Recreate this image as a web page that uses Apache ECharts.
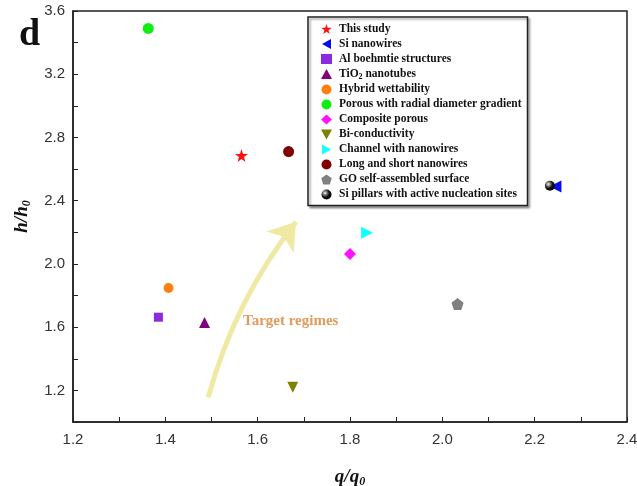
<!DOCTYPE html>
<html><head><meta charset="utf-8">
<script src="https://cdn.jsdelivr.net/npm/echarts@6/dist/echarts.min.js"></script>
<style>html,body{margin:0;padding:0;background:#fff}#c{width:637px;height:486px}</style>
</head><body><div id="c"></div>
<script>
// ---- data ----
const seriesNames = ['This study','Si nanowires','Al boehmtie structures','TiO2 nanotubes','Hybrid wettability','Porous with radial diameter gradient','Composite porous','Bi-conductivity','Channel with nanowires','Long and short nanowires','GO self-assembled surface','Si pillars with active nucleation sites'];
const qValues = [1.565, 2.245, 1.385, 1.485, 1.407, 1.363, 1.800, 1.676, 1.837, 1.667, 2.033, 2.233];
const hValues = [2.686, 2.490, 1.663, 1.630, 1.848, 3.490, 2.063, 1.220, 2.197, 2.711, 1.746, 2.495];
const xTicks = [1.2, 1.4, 1.6, 1.8, 2.0, 2.2, 2.4];
const yTicks = [1.2, 1.6, 2.0, 2.4, 2.8, 3.2, 3.6];
const arrowFrom = [1.493, 1.156];
const arrowTo = [1.683, 2.267];

const star = 'path://M50,0 L61.2,34.5 L97.6,34.5 L68.2,55.9 L79.4,90.5 L50,69.1 L20.6,90.5 L31.8,55.9 L2.4,34.5 L38.8,34.5 Z';
const pentagon = 'path://M50,0 L97.6,34.5 L79.4,90.5 L20.6,90.5 L2.4,34.5 Z';
const triUp = 'path://M50,5 L100,95 L0,95 Z';
const triDown = 'path://M0,5 L100,5 L50,95 Z';
const triLeft = 'path://M5,50 L95,0 L95,100 Z';
const triRight = 'path://M5,0 L95,50 L5,100 Z';
const sphere = {type:'radial', x:0.35, y:0.35, r:0.7, colorStops:[{offset:0,color:'#ffffff'},{offset:0.25,color:'#888'},{offset:0.6,color:'#111'},{offset:1,color:'#000'}]};
const styles = [
  {symbol: star, size: 13, color:'#ff1010'},
  {symbol: triLeft, size:12, color:'#0a0af0'},
  {symbol:'rect', size:9, color:'#8a2be2'},
  {symbol: triUp, size:11, color:'#800080'},
  {symbol:'circle', size:10, color:'#ff8010'},
  {symbol:'circle', size:11, color:'#10ee10'},
  {symbol:'diamond', size:12, color:'#ff10ff'},
  {symbol: triDown, size:11, color:'#808000'},
  {symbol: triRight, size:12, color:'#10ffff'},
  {symbol:'circle', size:11, color:'#800000'},
  {symbol: pentagon, size:12, color:'#808080'},
  {symbol:'circle', size:10, color: sphere}
];

const serif = 'Liberation Serif';
const series = seriesNames.map((n,i)=>({
  name:n, type:'scatter', symbol: styles[i].symbol, symbolSize: styles[i].size,
  itemStyle:{color: styles[i].color, opacity:1},
  data:[[qValues[i], hValues[i]]], z: 3
}));
series.push({
  type:'lines', coordinateSystem:'cartesian2d', z:1,
  symbol:['none','arrow'], symbolSize:[20,26],
  lineStyle:{color:'#efe9a4', width:5, curveness:0.1, opacity:1},
  data:[{coords:[arrowFrom, arrowTo]}], silent:true
});

const chart = echarts.init(document.getElementById('c'));
chart.setOption({
  animation:false,
  backgroundColor:'#fff',
  grid:{left:73, right:10, top:11, bottom:64, show:true, borderColor:'#222', borderWidth:1.5, outerBoundsMode:'none', containLabel:false},
  xAxis:{type:'value', min:1.2, max:2.4, interval:0.2,
    name:'q/q{sub|0}', nameLocation:'middle', nameGap:45,
    nameTextStyle:{fontFamily:serif, fontWeight:'bold', fontStyle:'italic', fontSize:19, color:'#111',
      rich:{sub:{fontFamily:serif, fontWeight:'bold', fontStyle:'italic', fontSize:12, verticalAlign:'bottom', padding:[9,0,0,0], color:'#111'}}},
    axisLine:{lineStyle:{color:'#222', width:1.5}},
    axisTick:{inside:true, length:5, lineStyle:{color:'#222'}},
    minorTick:{show:true, splitNumber:2, length:5, lineStyle:{color:'#222'}},
    splitLine:{show:false},
    axisLabel:{fontFamily:'Liberation Sans', fontSize:15, color:'#333', margin:10,
      formatter:v=>{const t=xTicks.find(k=>Math.abs(k-v)<1e-6);return t===undefined?'':t.toFixed(1);}}
  },
  yAxis:{type:'value', min:1.0, max:3.6, interval:0.2,
    name:'h/h{sub|0}', nameLocation:'middle', nameGap:40, nameRotate:90,
    nameTextStyle:{fontFamily:serif, fontWeight:'bold', fontStyle:'italic', fontSize:19, color:'#111',
      rich:{sub:{fontFamily:serif, fontWeight:'bold', fontStyle:'italic', fontSize:12, verticalAlign:'bottom', padding:[9,0,0,0], color:'#111'}}},
    axisLine:{lineStyle:{color:'#222', width:1.5}},
    axisTick:{inside:true, length:5, lineStyle:{color:'#222'}},
    splitLine:{show:false},
    axisLabel:{fontFamily:'Liberation Sans', fontSize:15, color:'#333', margin:8,
      formatter:v=>{const t=yTicks.find(k=>Math.abs(k-v)<1e-6);return t===undefined?'':t.toFixed(1);}}
  },
  legend:{
    data: seriesNames, orient:'vertical', left:308, top:17,
    backgroundColor:'#fff', borderColor:'#222', borderWidth:1.5,
    shadowColor:'rgba(0,0,0,0.35)', shadowBlur:2, shadowOffsetX:2, shadowOffsetY:2,
    padding:[6,6,5,13], itemGap:3, itemWidth:11, itemHeight:10,
    textStyle:{fontFamily:serif, fontWeight:'bold', fontSize:11.5, color:'#111', padding:[0,0,0,2],
      rich:{sub:{fontFamily:serif, fontWeight:'bold', fontSize:8, verticalAlign:'bottom', padding:[5,0,0,0], color:'#111'}}},
    formatter: n => n==='TiO2 nanotubes' ? 'TiO{sub|2} nanotubes' : n,
    selectedMode:false
  },
  graphic:[
    {type:'text', left:19, top:16, style:{text:'d', font:'bold 38px "Liberation Serif"', fill:'#111'}},
    {type:'text', left:243, top:314, style:{text:'Target regimes', font:'bold 15px "Liberation Serif"', fill:'#e39a5a'}}
  ],
  series: series
});
</script></body></html>
